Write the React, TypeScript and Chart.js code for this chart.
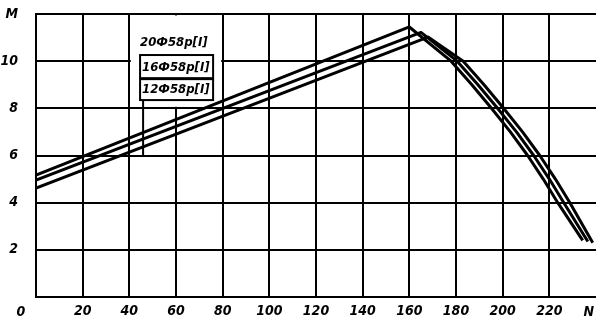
import React, { useEffect, useRef } from 'react';
import { Chart, registerables } from 'chart.js';

Chart.register(...registerables);

// ---- data ----
const seriesNames = ['20Ф58р[I]', '16Ф58р[I]', '12Ф58р[I]'];
const xA = [0, 160, 177.9, 186.8, 195.2, 203.3, 210.7, 217.4, 223.6, 234.3];
const yA = [5.17, 11.45, 10, 9, 8, 7, 6, 5, 4, 2.4];
const xB = [0, 165, 180.5, 189.4, 197.8, 205.9, 213.3, 220.0, 226.2, 236.5];
const yB = [4.96, 11.22, 10, 9, 8, 7, 6, 5, 4, 2.35];
const xC = [0, 168, 183.1, 192.0, 200.4, 208.5, 215.9, 222.6, 228.8, 238.6];
const yC = [4.62, 11.02, 10, 9, 8, 7, 6, 5, 4, 2.3];

const xTickValues = [0, 20, 40, 60, 80, 100, 120, 140, 160, 180, 200, 220, 240];
const xTickLabels = ['', '20', '40', '60', '80', '100', '120', '140', '160', '180', '200', '220', ''];
const yTickValues = [0, 2, 4, 6, 8, 10, 12];
const yTickLabels = ['', '2', '4', '6', '8', '10', 'M'];
const originLabel = '0';
const xEndLabel = 'N';

const FONT_FAMILY = "'DejaVu Sans Condensed', 'DejaVu Sans', sans-serif";

const toPoints = (xs: number[], ys: number[]) => xs.map((v, i) => ({ x: v, y: ys[i] }));

const annotationPlugin = {
  id: 'annot',
  beforeDatasetsDraw(chart: any) {
    const { ctx, scales } = chart;
    const x = scales.x;
    const y = scales.y;
    ctx.save();
    // white patch behind labels
    const l = x.getPixelForValue(40) + 1.5;
    const r = x.getPixelForValue(80) - 1.5;
    const t = y.getPixelForValue(12) + 1.5;
    const b = y.getPixelForValue(8) - 1.5;
    ctx.fillStyle = '#fff';
    ctx.fillRect(l, t, r - l, b - t);

    const bl = x.getPixelForValue(44.6);
    const br = x.getPixelForValue(75.9);
    const bt = y.getPixelForValue(10.26);
    const bm = y.getPixelForValue(9.28);
    const bb = y.getPixelForValue(8.35);
    ctx.strokeStyle = '#000';
    ctx.lineWidth = 2;
    ctx.strokeRect(bl, bt, br - bl, bm - bt);
    ctx.strokeRect(bl, bm + 1, br - bl, bb - bm - 1);
    // leader line
    const lx = x.getPixelForValue(45.9);
    ctx.beginPath();
    ctx.moveTo(lx, bb);
    ctx.lineTo(lx, y.getPixelForValue(6));
    ctx.stroke();

    ctx.fillStyle = '#000';
    ctx.font = `italic bold 13px ${FONT_FAMILY}`;
    ctx.textAlign = 'left';
    ctx.textBaseline = 'middle';
    ctx.fillText(seriesNames[0], bl, y.getPixelForValue(10.77));
    ctx.fillText(seriesNames[1], bl + 2, (bt + bm) / 2 + 1);
    ctx.fillText(seriesNames[2], bl + 2, (bm + bb) / 2 + 1);
    ctx.restore();
  },
  afterDraw(chart: any) {
    const { ctx, chartArea } = chart;
    ctx.save();
    ctx.fillStyle = '#000';
    ctx.font = `italic bold 14px ${FONT_FAMILY}`;
    ctx.textBaseline = 'middle';
    ctx.textAlign = 'center';
    ctx.fillText(originLabel, 21, chartArea.bottom + 15);
    ctx.textAlign = 'right';
    ctx.fillText(xEndLabel, chartArea.right - 2, chartArea.bottom + 15);
    ctx.restore();
  },
};

export default function App() {
  const ref = useRef<HTMLCanvasElement | null>(null);
  useEffect(() => {
    document.body.style.margin = '0';
    const canvas = ref.current;
    if (!canvas) return;
    const tickFont = { family: FONT_FAMILY, size: 14, style: 'italic' as const, weight: 'bold' as const };
    const ds = (xs: number[], ys: number[], label: string) => ({
      label,
      data: toPoints(xs, ys),
      borderColor: '#000',
      borderWidth: 3,
      borderJoinStyle: 'round' as const,
      pointRadius: 0,
      tension: 0,
      fill: false,
    });
    const chart = new Chart(canvas, {
      type: 'line',
      data: {
        datasets: [ds(xA, yA, seriesNames[0]), ds(xB, yB, seriesNames[1]), ds(xC, yC, seriesNames[2])],
      },
      plugins: [annotationPlugin],
      options: {
        responsive: false,
        animation: false,
        layout: { padding: { top: 14, right: 0, bottom: 0, left: 0 } },
        plugins: { legend: { display: false }, tooltip: { enabled: false } },
        scales: {
          x: {
            type: 'linear',
            min: 0,
            max: 240,
            afterBuildTicks: (s: any) => {
              s.ticks = xTickValues.map((v) => ({ value: v }));
            },
            afterFit: (s: any) => {
              s.height = 30;
              s.paddingLeft = 0;
              s.paddingRight = 0;
            },
            grid: {
              color: (c: any) => (c.tick && c.tick.value === 240 ? 'rgba(0,0,0,0)' : '#000'),
              lineWidth: 2,
              drawTicks: false,
            },
            border: { display: true, color: '#000', width: 2 },
            ticks: {
              padding: 6,
              color: '#000',
              font: tickFont,
              maxRotation: 0,
              autoSkip: false,
              callback: (v: any) => {
                const i = xTickValues.indexOf(Number(v));
                return i >= 0 ? xTickLabels[i] : '';
              },
            },
          },
          y: {
            type: 'linear',
            min: 0,
            max: 12,
            afterBuildTicks: (s: any) => {
              s.ticks = yTickValues.map((v) => ({ value: v }));
            },
            afterFit: (s: any) => {
              s.width = 36;
              s.paddingTop = 0;
              s.paddingBottom = 0;
            },
            grid: { color: '#000', lineWidth: 2, drawTicks: false },
            border: { display: true, color: '#000', width: 2 },
            ticks: {
              padding: 18,
              color: '#000',
              font: tickFont,
              autoSkip: false,
              callback: (v: any) => {
                const i = yTickValues.indexOf(Number(v));
                return i >= 0 ? yTickLabels[i] : '';
              },
            },
          },
        },
      },
    });
    return () => chart.destroy();
  }, []);
  return (
    <div style={{ width: 596, height: 327 }}>
      <canvas ref={ref} width={596} height={327} style={{ display: 'block' }} />
    </div>
  );
}
